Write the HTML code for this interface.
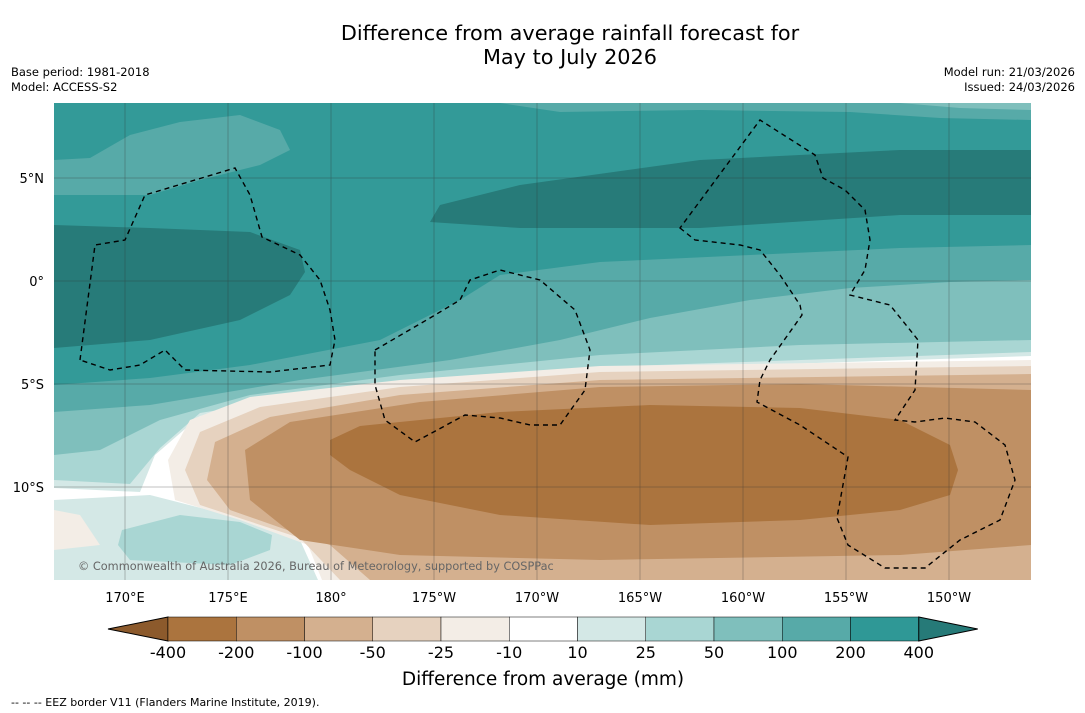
<!DOCTYPE html>
<html><head><meta charset="utf-8"><style>
body{margin:0;background:#fff;font-family:"DejaVu Sans","Liberation Sans",sans-serif;}
#wrap{position:relative;width:1085px;height:713px;overflow:hidden;background:#fff}
.t{position:absolute;white-space:nowrap;color:#000}
svg text{font-family:"DejaVu Sans","Liberation Sans",sans-serif}
</style></head><body>
<div id="wrap">
<div class="t" style="left:0;width:1140px;top:21px;text-align:center;font-size:20.8px;line-height:24px">Difference from average rainfall forecast for<br>May to July 2026</div>
<div class="t" style="left:11px;top:65px;font-size:11.5px;line-height:15px">Base period: 1981-2018<br>Model: ACCESS-S2</div>
<div class="t" style="right:10px;top:65px;font-size:11.5px;line-height:15px;text-align:right">Model run: 21/03/2026<br>Issued: 24/03/2026</div>
<svg id="map" width="1085" height="713" style="position:absolute;left:0;top:0">
<defs><clipPath id="cp"><rect x="54" y="103" width="977" height="477"/></clipPath></defs>
<g clip-path="url(#cp)" id="bands">
<rect x="54" y="103" width="977" height="477" fill="#339a98"/>
<path fill="#57aaa8" d="M500,103 L560,112 L700,110 L850,112 L940,118 L1031,120 L1031,103Z"/>
<path fill="#7fbfbc" d="M900,103 L960,108 L1031,110 L1031,103Z"/>
<path fill="#57aaa8" d="M54,160 L90,158 L130,135 L180,122 L240,115 L280,130 L290,150 L260,165 L200,180 L150,195 L54,195Z"/>
<path fill="#277b79" d="M430,222 L440,205 L520,185 L700,160 L900,150 L1031,150 L1031,215 L900,215 L700,228 L520,228Z"/>
<path fill="#277b79" d="M54,225 L150,228 L250,232 L300,250 L305,272 L290,295 L240,320 L150,340 L54,348Z"/>
<path fill="#57aaa8" d="M54,385 L150,378 L250,365 L380,340 L460,300 L500,275 L600,262 L750,255 L900,248 L1031,245 L1031,580 L54,580Z"/>
<path fill="#7fbfbc" d="M54,412 L150,405 L300,380 L450,360 L560,340 L650,318 L750,300 L850,288 L950,282 L1031,280 L1031,580 L54,580Z"/>
<path fill="#a9d6d3" d="M54,455 L100,450 L160,420 L250,395 L400,375 L600,355 L800,345 L1031,340 L1031,580 L54,580Z"/>
<path fill="#d4e8e6" d="M54,480 L130,484 L160,448 L200,413 L350,389 L600,367 L1031,352 L1031,580 L54,580Z"/>
<path fill="#ffffff" d="M54,488 L140,492 L155,455 L200,416 L350,392 L600,370 L1031,356 L1031,580 L54,580Z"/>
<path fill="#d4e8e6" d="M54,500 L150,495 L240,518 L300,540 L318,580 L54,580Z"/>
<path fill="#a9d6d3" d="M118,545 L122,530 L180,515 L240,522 L272,535 L270,550 L230,565 L130,560Z"/>
<path fill="#f3ede6" d="M54,510 L80,515 L100,545 L54,550Z"/>
<path fill="#f3ede6" d="M1031,360 L600,366 L400,380 L250,397 L190,420 L168,460 L175,500 L240,520 L308,545 L322,580 L1031,580Z"/>
<path fill="#e6d2bf" d="M1031,366 L600,372 L400,387 L260,407 L200,432 L185,470 L200,505 L300,538 L340,580 L1031,580Z"/>
<path fill="#d4b08f" d="M1031,374 L600,380 L400,395 L270,417 L215,442 L207,480 L230,510 L330,545 L370,580 L1031,580Z"/>
<path fill="#bf9064" d="M245,450 L290,422 L420,402 L600,387 L800,384 L1031,390 L1031,545 L900,555 L600,560 L400,555 L300,540 L250,500Z"/>
<path fill="#ab743e" d="M330,440 L360,426 L500,412 L650,405 L800,408 L900,420 L950,445 L958,470 L950,495 L900,510 L800,520 L650,525 L500,515 L400,495 L350,470 L330,455Z"/>
</g>
<g id="grid" stroke="#333" stroke-width="0.5" opacity="0.6"></g>
<g fill="none" stroke="#000" stroke-width="1.4" stroke-dasharray="5,4" clip-path="url(#cp)">
<path d="M80,360 L95,245 L125,240 L145,195 L235,168 L250,195 L262,237 L300,255 L320,280 L330,310 L335,340 L330,365 L270,372 L185,370 L165,350 L140,365 L110,370 Z"/>
<path d="M375,350 L430,318 L460,300 L470,280 L500,270 L540,280 L575,310 L590,350 L585,390 L560,425 L530,425 L500,418 L465,415 L415,442 L385,420 L375,385 Z"/>
<path d="M680,228 L695,240 L740,245 L760,250 L780,275 L800,305 L802,315 L770,360 L760,380 L757,402 L800,425 L848,457 L837,518 L848,545 L885,568 L925,568 L960,540 L1000,520 L1015,480 L1005,445 L975,422 L945,418 L915,422 L895,420 L915,390 L918,340 L890,305 L850,295 L865,270 L870,240 L865,210 L845,190 L823,178 L815,155 L760,120 Z"/>
</g>
<g id="axislabels" font-size="13" fill="#000"></g>
<text x="78" y="570" font-size="11.3" fill="#666">© Commonwealth of Australia 2026, Bureau of Meteorology, supported by COSPPac</text>
<g id="cbar"></g>
<text x="543" y="685" font-size="18.5" text-anchor="middle">Difference from average (mm)</text>
<text x="11" y="706" font-size="11">--  --  -- EEZ border V11 (Flanders Marine Institute, 2019).</text>
</svg>
</div>
<script>
const lonLabels=["170°E","175°E","180°","175°W","170°W","165°W","160°W","155°W","150°W"];
const lonValues=[170,175,180,185,190,195,200,205,210];
const latLabels=["5°N","0°","5°S","10°S"];
const latValues=[5,0,-5,-10];
const levelLabels=["-400","-200","-100","-50","-25","-10","10","25","50","100","200","400"];
const levelColors=["#8c5a2c","#ab743e","#bf9064","#d4b08f","#e6d2bf","#f3ede6","#ffffff","#d4e8e6","#a9d6d3","#7fbfbc","#57aaa8","#2f9896","#267a78"];
const NS="http://www.w3.org/2000/svg";
const xLon=v=>125+(v-170)*20.6, yLat=v=>281-v*20.6;
const grid=document.getElementById('grid'),al=document.getElementById('axislabels');
function mk(t,a,p){const e=document.createElementNS(NS,t);for(const k in a)e.setAttribute(k,a[k]);p.appendChild(e);return e;}
lonValues.forEach((v,i)=>{const x=xLon(v);
 const l=mk('line',{x1:x,x2:x,y1:103,y2:580},grid);
 
 
 const t=mk('text',{x:x,y:602,'text-anchor':'middle'},al);t.textContent=lonLabels[i];
 
 });
latValues.forEach((v,i)=>{const y=yLat(v);
 const l=mk('line',{x1:54,x2:1031,y1:y,y2:y},grid);
 
 
 const t=mk('text',{x:44,y:y+5,'text-anchor':'end'},al);t.textContent=latLabels[i];
 
 });
const cb=document.getElementById('cbar');const x0=168,w=68.25,y0=617,h=24,n=levelColors.length-2;
const la=mk('polygon',{points:`108,${y0+h/2} ${x0},${y0} ${x0},${y0+h}`,fill:levelColors[0],stroke:'#000','stroke-width':1},cb);


for(let i=0;i<n;i++){const r=mk('rect',{x:x0+i*w,y:y0,width:w,height:h,fill:levelColors[i+1],stroke:'#000','stroke-width':0.5},cb);
 
 }
const xe=x0+n*w;
const ra=mk('polygon',{points:`${xe},${y0} ${xe+59},${y0+h/2} ${xe},${y0+h}`,fill:levelColors[n+1],stroke:'#000','stroke-width':1},cb);


levelLabels.forEach((s,i)=>{const t=mk('text',{x:x0+i*w,y:658,'text-anchor':'middle','font-size':16},cb);t.textContent=s;
 
 });
</script>
</body></html>
